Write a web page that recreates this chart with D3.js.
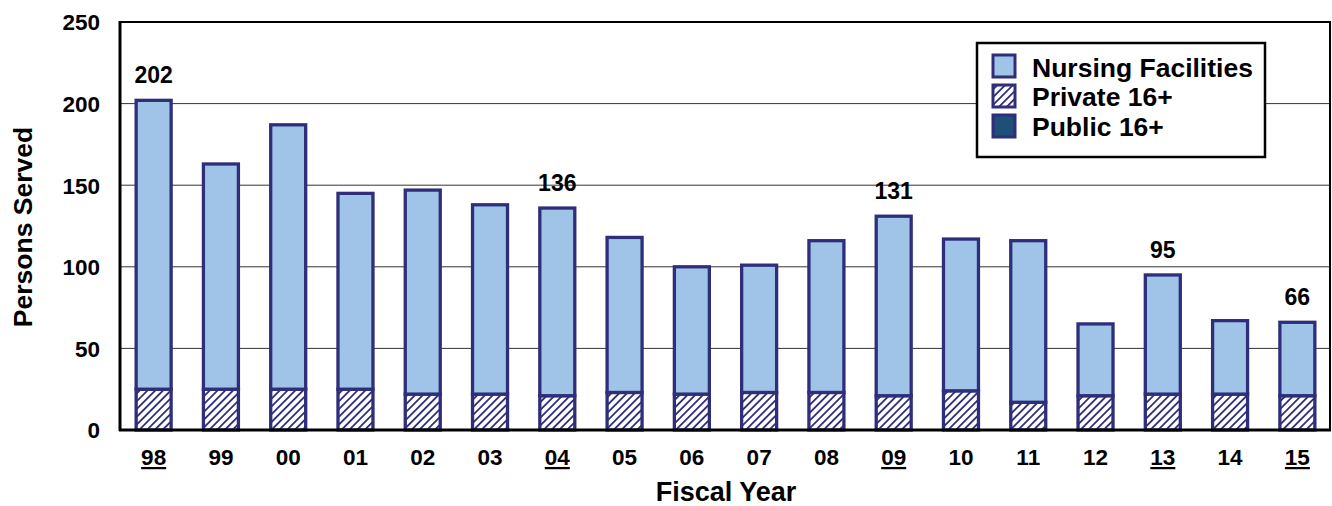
<!DOCTYPE html>
<html><head><meta charset="utf-8">
<script src="https://cdn.jsdelivr.net/npm/d3@7"></script>
<style>body{margin:0;background:#fff}svg{display:block;font-family:"Liberation Sans",Arial,sans-serif;font-weight:bold}</style>
</head><body><svg id="c" width="1332" height="506"></svg>
<script>
const years = ["98","99","00","01","02","03","04","05","06","07","08","09","10","11","12","13","14","15"];
const totals = [202,163,187,145,147,138,136,118,100,101,116,131,117,116,65,95,67,66];
const privateVals = [25,25,25,25,22,22,21,23,22,23,23,21,24,17,21,22,22,21];
const publicVals = [0,0,0,0,0,0,0,0,0,0,0,0,0,0,0,0,0,0];
const nursingVals = totals.map((t,i)=>t-privateVals[i]-publicVals[i]);
const labeled = ["98","04","09","13","15"];
const yTicks = [0,50,100,150,200,250];
const seriesNames = ["Nursing Facilities","Private 16+","Public 16+"];

const svg = d3.select("#c");
const defs = svg.append("defs");
const pat = defs.append("pattern").attr("id","hatch").attr("patternUnits","userSpaceOnUse")
  .attr("width",5.5).attr("height",5.5).attr("patternTransform","rotate(45)");
pat.append("rect").attr("width",5.5).attr("height",5.5).attr("fill","#fff");
pat.append("rect").attr("x",0).attr("width",1.8).attr("height",5.5).attr("fill","#2e2e7a");

const m = {l:120, r:1331, t:22, b:430};
const x = d3.scaleBand().domain(years).range([m.l,m.r]).paddingInner(0.48).paddingOuter(0.24);
const y = d3.scaleLinear().domain([0,250]).range([m.b,m.t]);

// gridlines
svg.append("g").selectAll("line").data(yTicks.filter(t=>t>0&&t<250)).join("line")
  .attr("x1",m.l).attr("x2",m.r).attr("y1",d=>y(d)).attr("y2",d=>y(d))
  .attr("stroke","#333").attr("stroke-width",1);

// bars
const fills = {"Public 16+":"#1f4e79","Private 16+":"url(#hatch)","Nursing Facilities":"#a0c4e8"};
const stackData = years.map((yr,i)=>({yr, "Public 16+":publicVals[i], "Private 16+":privateVals[i], "Nursing Facilities":nursingVals[i]}));
const stack = d3.stack().keys(["Public 16+","Private 16+","Nursing Facilities"])(stackData);
stack.forEach(s=>{
  svg.append("g").selectAll("rect").data(s.filter(d=>d[1]-d[0]>0)).join("rect")
    .attr("x",d=>x(d.data.yr)).attr("width",x.bandwidth())
    .attr("y",d=>y(d[1])).attr("height",d=>y(d[0])-y(d[1]))
    .attr("fill",fills[s.key]).attr("stroke","#2e2e7a").attr("stroke-width",3.3);
});

// frame
svg.append("rect").attr("x",m.l).attr("y",m.t).attr("width",m.r-m.l-1).attr("height",m.b-m.t)
  .attr("fill","none").attr("stroke","#000").attr("stroke-width",2);
svg.append("line").attr("x1",m.l-1).attr("x2",m.r).attr("y1",m.b).attr("y2",m.b).attr("stroke","#000").attr("stroke-width",3);
svg.append("line").attr("x1",m.l).attr("x2",m.l).attr("y1",m.t-1).attr("y2",m.b+1).attr("stroke","#000").attr("stroke-width",3);

// y axis
const ya = svg.append("g").attr("transform",`translate(${m.l},0)`)
  .call(d3.axisLeft(y).tickValues(yTicks).tickSize(0).tickPadding(20));
ya.select(".domain").remove();
ya.selectAll("text").attr("font-size",22.5).attr("font-weight","bold").attr("fill","#000")
  .attr("font-family","Liberation Sans, Arial, sans-serif").attr("dy","0.35em");

// x axis
const xa = svg.append("g").attr("transform",`translate(0,${m.b})`)
  .call(d3.axisBottom(x).tickSize(0).tickPadding(19));
xa.select(".domain").remove();
xa.selectAll("text").attr("font-size",22.5).attr("font-weight","bold").attr("fill","#000")
  .attr("font-family","Liberation Sans, Arial, sans-serif")
  .attr("text-decoration",d=>labeled.includes(d)?"underline":null);

// value labels
svg.append("g").selectAll("text").data(years.map((yr,i)=>({yr,t:totals[i]})).filter(d=>labeled.includes(d.yr))).join("text")
  .attr("x",d=>x(d.yr)+x.bandwidth()/2).attr("y",d=>y(d.t)-17)
  .attr("text-anchor","middle").attr("font-size",23).text(d=>d.t);

// axis titles
svg.append("text").attr("transform","translate(32,227) rotate(-90)").attr("text-anchor","middle")
  .attr("font-size",26.5).text("Persons Served");
svg.append("text").attr("x",726).attr("y",501).attr("text-anchor","middle").attr("font-size",27).text("Fiscal Year");

// legend
const lg = svg.append("g");
lg.append("rect").attr("x",977).attr("y",43).attr("width",288).attr("height",114)
  .attr("fill","#fff").attr("stroke","#000").attr("stroke-width",2.5);
const legendFills = ["#a0c4e8","url(#hatch)","#1f4e79"];
seriesNames.forEach((n,i)=>{
  const yy = 55 + i*30;
  lg.append("rect").attr("x",993).attr("y",yy).attr("width",22).attr("height",22)
    .attr("fill",legendFills[i]).attr("stroke","#2e2e7a").attr("stroke-width",3);
  lg.append("text").attr("x",1032).attr("y",77 + i*29.3).attr("font-size",26.5).text(n);
});
</script></body></html>
